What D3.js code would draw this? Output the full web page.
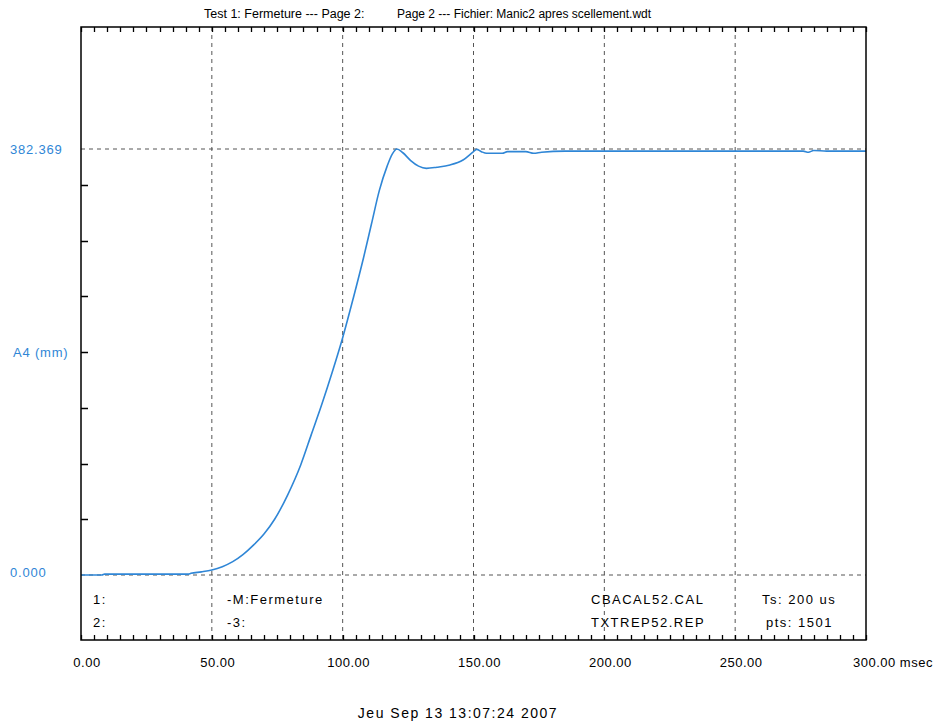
<!DOCTYPE html>
<html>
<head>
<meta charset="utf-8">
<script src="https://cdn.jsdelivr.net/npm/d3@7"></script>
<style>
  body { margin: 0; background: #fff; }
  text { font-family: "Liberation Sans", Arial, sans-serif; }
</style>
</head>
<body>
<svg></svg>
<script>
var size = {width: 937, height: 723}
var margins = {top: 27, right: 71, bottom: 83, left: 81}

// time (msec) and position A4 (mm)
var times = [0, 8, 9, 41, 42, 46, 50, 54, 58, 62, 66, 70, 74, 79, 84, 88, 92, 96, 100, 104, 108, 111, 114, 117, 119, 120.7, 123, 126, 129, 132, 136, 141, 146, 150, 151.2, 153, 155, 161, 163, 170, 173, 176, 185, 200, 230, 260, 276, 278, 280, 285, 300]
var positions = [0, 0, 0.8, 0.8, 1.5, 2.8, 4.5, 7.5, 12, 18.5, 27, 37, 50, 72, 99, 126, 153, 182, 213, 248, 285, 315, 345, 367, 378, 382.4, 379, 372, 367, 365, 366, 368, 372.5, 380, 382, 380, 378.5, 378.5, 380, 380, 378.5, 379.5, 380.5, 380.5, 380.5, 380.5, 380.5, 379.5, 381, 380.5, 380.5]

var xTicks = [0, 50, 100, 150, 200, 250, 300]
var xTickLabels = ["0.00", "50.00", "100.00", "150.00", "200.00", "250.00", "300.00"]
var yTicks = [50, 100, 150, 200, 250, 300, 350]
var yRefLines = [0, 382.369]
var yLabels = [{value: 382.369, text: "382.369"}, {value: 200, text: "A4 (mm)"}, {value: 0, text: "0.000"}]

var infoRow1 = ["1:", "-M:Fermeture", "CBACAL52.CAL", "Ts: 200 us"]
var infoRow2 = ["2:", "-3:", "TXTREP52.REP", "pts: 1501"]

var title1 = "Test 1: Fermeture --- Page 2:"
var title2 = "Page 2 --- Fichier: Manic2 apres scellement.wdt"
var footer = "Jeu Sep 13 13:07:24 2007"

var blue = "#2f86d6"

var width = size.width - margins.left - margins.right
var height = size.height - margins.top - margins.bottom

var svg = d3.select("svg")
    .attr("width", size.width)
    .attr("height", size.height)

svg.append("rect")
    .attr("width", size.width)
    .attr("height", size.height)
    .attr("fill", "#fff")

var xScale = d3.scaleLinear()
    .domain([0, 300])
    .range([0, width])

var yScale = d3.scaleLinear()
    .domain([0, 382.369])
    .range([548, 122])

var graph = svg.append("g")
    .attr("id", "graph")
    .attr("transform", "translate(" + margins.left + "," + margins.top + ")")

// dashed grid lines
graph.append("g")
    .selectAll("line")
    .data(xTicks.slice(1, -1))
    .enter()
    .append("line")
    .attr("x1", function(d){return xScale(d)})
    .attr("x2", function(d){return xScale(d)})
    .attr("y1", 0)
    .attr("y2", height)
    .attr("stroke", "#555")
    .attr("stroke-dasharray", "4,4")

graph.append("g")
    .selectAll("line")
    .data(yRefLines)
    .enter()
    .append("line")
    .attr("x1", 0)
    .attr("x2", width)
    .attr("y1", function(d){return yScale(d)})
    .attr("y2", function(d){return yScale(d)})
    .attr("stroke", "#555")
    .attr("stroke-dasharray", "4,4")

// minor ticks top and bottom, every 5 msec (pointing inside)
var minor = d3.range(0, 301, 5)

var tickPath = minor.map(function(d){
        var x = Math.round(xScale(d)) + 0.5
        return "M" + x + ",0v5M" + x + "," + height + "v-5"
    }).join("")
    + yTicks.map(function(d){
        var y = Math.round(yScale(d)) + 0.5
        return "M0," + y + "h7"
    }).join("")

graph.append("path")
    .attr("d", tickPath)
    .attr("fill", "none")
    .attr("stroke", "#000")
    .attr("stroke-width", 1.3)

// curve
var lineGenerator = d3.line()
    .x(function(d, i){return xScale(times[i])})
    .y(function(d){return yScale(d)})
    .curve(d3.curveMonotoneX)

graph.append("path")
    .datum(positions)
    .attr("d", lineGenerator)
    .attr("fill", "none")
    .attr("stroke", blue)
    .attr("stroke-width", 1.6)

// frame
graph.append("rect")
    .attr("width", width)
    .attr("height", height)
    .attr("fill", "none")
    .attr("stroke", "#000")
    .attr("stroke-width", 1.5)

// x labels
svg.append("g")
    .selectAll("text")
    .data(xTicks)
    .enter()
    .append("text")
    .attr("x", function(d){return margins.left + xScale(d) + 6})
    .attr("y", 667)
    .attr("text-anchor", function(d){return d == 300 ? "start" : "middle"})
    .attr("dx", function(d){return d == 300 ? -19 : 0})
    .attr("font-size", 13)
    .attr("letter-spacing", 0.5)
    .text(function(d, i){return d == 300 ? xTickLabels[i] + " msec" : xTickLabels[i]})

// y labels
svg.append("g")
    .selectAll("text")
    .data(yLabels)
    .enter()
    .append("text")
    .attr("x", function(d){return d.value == 200 ? 13 : 10})
    .attr("y", function(d){return margins.top + yScale(d.value) - (d.value == 0 ? 3 : 0)})
    .attr("dy", "0.35em")
    .attr("font-size", 13)
    .attr("letter-spacing", 0.8)
    .attr("fill", blue)
    .text(function(d){return d.text})

// info rows inside the frame
var infoX = [93, 227, 591, 762]
svg.append("g")
    .selectAll("text")
    .data(infoRow1.concat(infoRow2))
    .enter()
    .append("text")
    .attr("x", function(d, i){return infoX[i % 4] + (i == 7 ? 4 : 0)})
    .attr("y", function(d, i){return i < 4 ? 604 : 627})
    .attr("font-size", 13)
    .attr("letter-spacing", 1.5)
    .text(function(d){return d})

// title
svg.append("text")
    .attr("x", 204)
    .attr("y", 18)
    .attr("font-size", 12.5)
    .text(title1)
svg.append("text")
    .attr("x", 397)
    .attr("y", 18)
    .attr("font-size", 12)
    .text(title2)

svg.append("text")
    .attr("x", 458)
    .attr("y", 718)
    .attr("text-anchor", "middle")
    .attr("font-size", 14)
    .attr("letter-spacing", 1.5)
    .text(footer)
</script>
</body>
</html>
